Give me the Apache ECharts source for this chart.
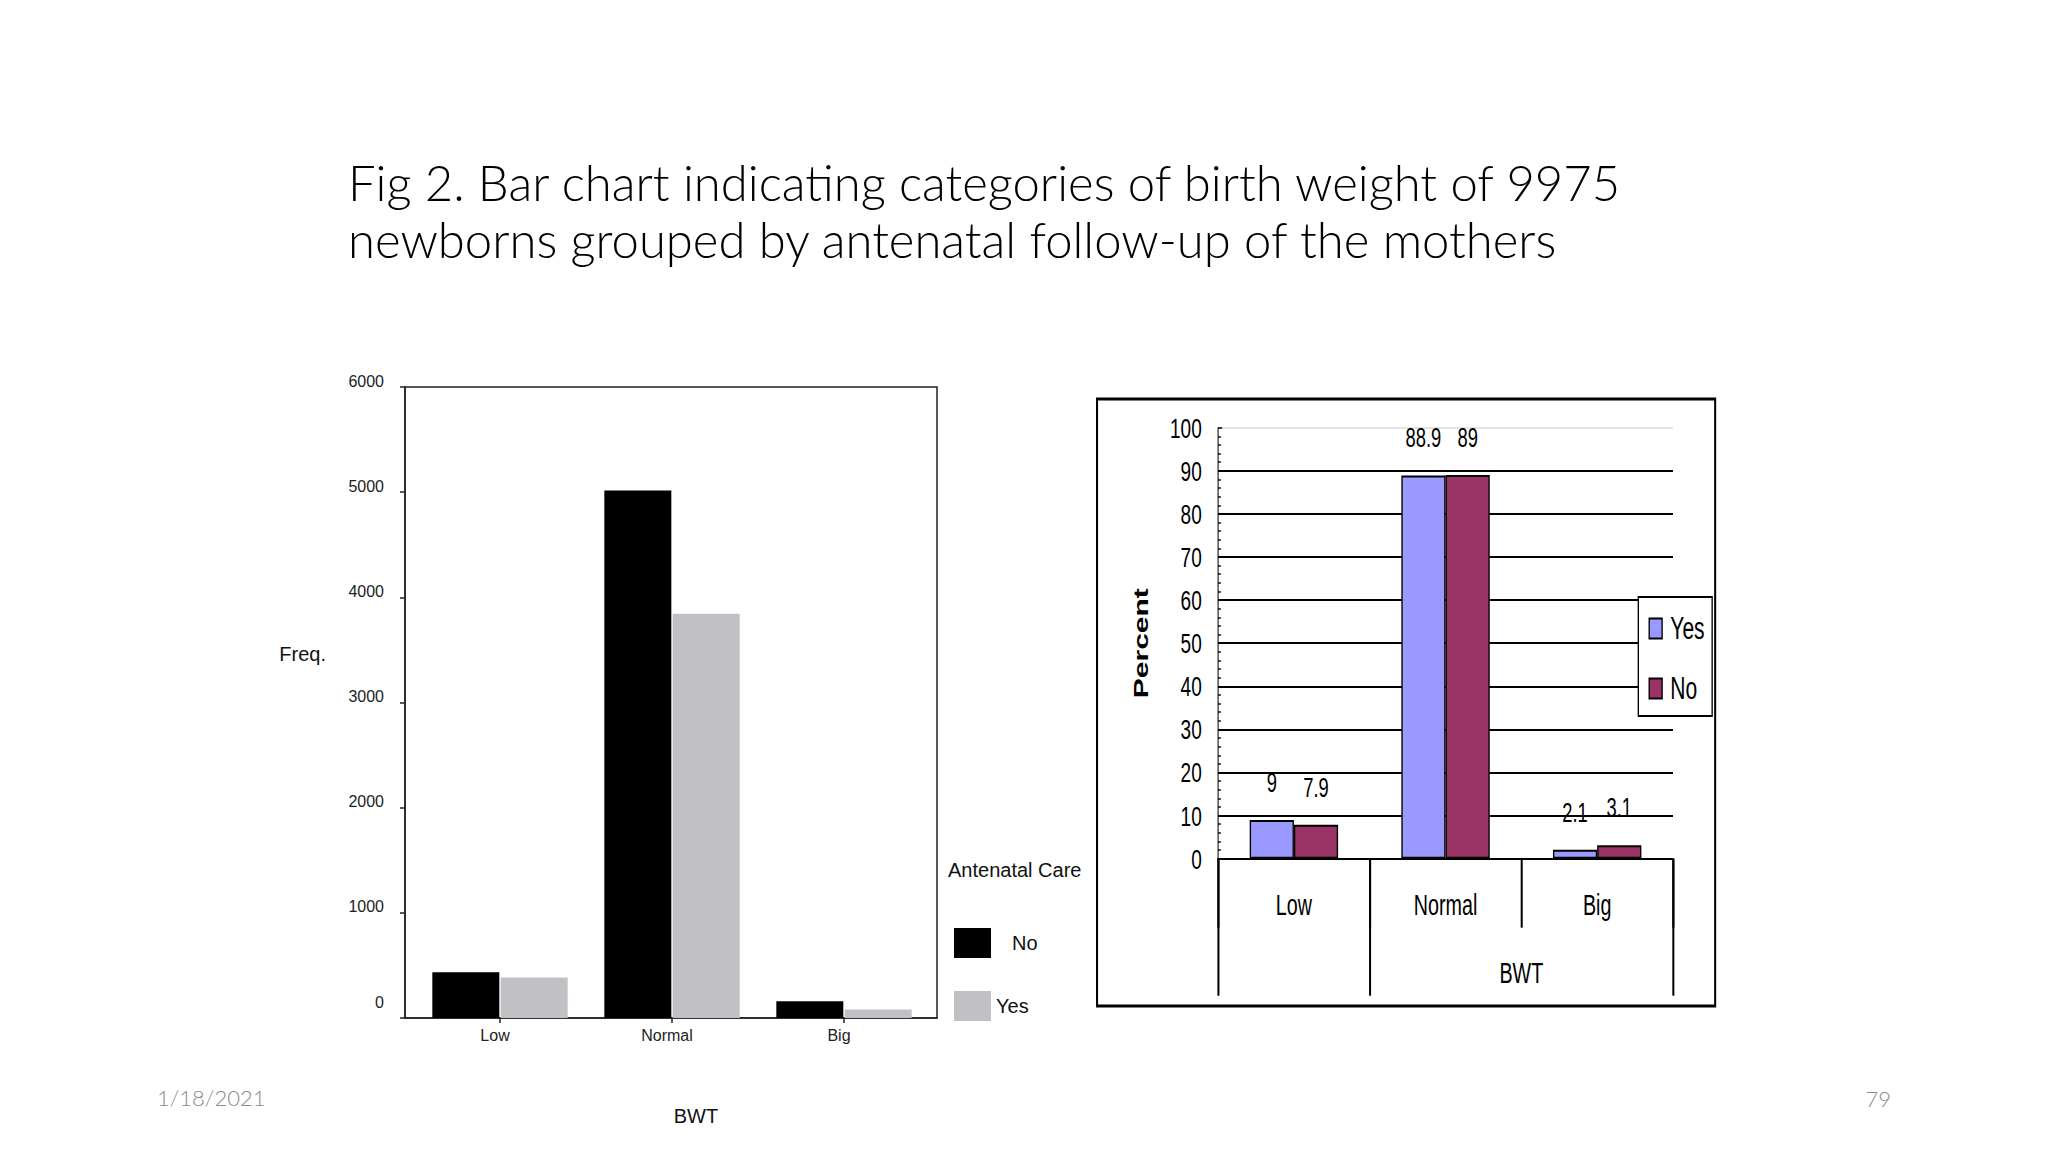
<!DOCTYPE html>
<html>
<head>
<meta charset="utf-8">
<script src="https://cdn.jsdelivr.net/npm/echarts@6/dist/echarts.min.js"></script>
<style>
html, body { margin: 0; padding: 0; background: #fff; }
#c1 { position: absolute; left: 0; top: 0; width: 2048px; height: 1152px; }
#c2 { position: absolute; left: 1095px; top: 0; width: 920px; height: 1152px; transform: scaleX(0.68); transform-origin: 0 0; }
</style>
</head>
<body>
<div id="c1"></div>
<div id="c2"></div>
<script>
// ---- data ----
const categories = ['Low', 'Normal', 'Big'];
const freqNo = [435, 5015, 160];
const freqYes = [385, 3845, 80];
const pctYes = [9, 88.9, 2.1];
const pctNo = [7.9, 89, 3.1];
const titleLines = ['Fig 2. Bar chart indicating categories of birth weight of 9975', 'newborns grouped by antenatal follow-up of the mothers'];
const footerDate = '1/18/2021';
const pageNumber = '79';

const AR = 'Liberation Sans, Arial, sans-serif';

// ---- left chart (frequencies) ----
const c1 = echarts.init(document.getElementById('c1'), null, { width: 2048, height: 1152, renderer: 'svg' });
c1.setOption({
  animation: false,
  title: [
    { text: titleLines.join('\n'), left: 348, top: 153, padding: 0,
      textStyle: { fontFamily: 'Lato, Open Sans, sans-serif', fontWeight: 300, fontSize: 49, lineHeight: 57, color: '#000' } },
    { text: 'Antenatal Care', left: 948, top: 860, padding: 0,
      textStyle: { fontFamily: AR, fontWeight: 'normal', fontSize: 20, color: '#111' } }
  ],
  grid: [
    { left: 405, right: 1111, top: 387, bottom: 134, show: true, borderColor: '#222', borderWidth: 1.5 },
    { left: 414, right: 1118, top: 387, bottom: 134 }
  ],
  legend: {
    orient: 'vertical', left: 949, top: 923, itemWidth: 37, itemHeight: 30, itemGap: 33,
    icon: 'rect', selectedMode: false,
    textStyle: { fontFamily: AR, fontSize: 20, color: '#111' },
    data: [
      { name: 'No', textStyle: { padding: [0, 0, 0, 16] } },
      { name: 'Yes' }
    ]
  },
  xAxis: [
    {
      gridIndex: 0, type: 'category', data: categories,
      axisLine: { lineStyle: { color: '#222', width: 1.5 } },
      axisTick: { show: false }, axisLabel: { show: false }
    },
    {
      gridIndex: 1, type: 'category', data: categories,
      axisLine: { show: false },
      axisTick: { show: true, alignWithLabel: true, length: 5, lineStyle: { color: '#222', width: 1.5 } },
      axisLabel: { fontFamily: AR, fontSize: 16, color: '#222', margin: 9, padding: [0, 10, 0, 0] },
      name: 'BWT', nameLocation: 'middle', nameGap: 88,
      nameTextStyle: { fontFamily: AR, fontSize: 20, color: '#111', padding: [0, 0, 0, 48] }
    }
  ],
  yAxis: [
    {
      gridIndex: 0, type: 'value', min: 0, max: 6000, interval: 1000,
      axisLine: { show: true, lineStyle: { color: '#222', width: 1.5 } },
      axisTick: { show: true, length: 5, lineStyle: { color: '#222', width: 1.5 } },
      splitLine: { show: false },
      axisLabel: {
        fontFamily: AR, fontSize: 16, color: '#222', margin: 21,
        formatter: v => v === 0 ? '{z|0}' : '{n|' + v + '}',
        rich: { n: { fontFamily: AR, fontSize: 16, color: '#222', padding: [0, 0, 12, 0] },
                z: { fontFamily: AR, fontSize: 16, color: '#222', padding: [0, 0, 32, 0] } }
      },
      name: '{f|Freq.}', nameLocation: 'middle', nameRotate: 0, nameGap: 79,
      nameTextStyle: { fontFamily: AR, fontSize: 20, color: '#111',
        rich: { f: { fontFamily: AR, fontSize: 20, color: '#111', padding: [0, 0, 97, 0] } } }
    },
    { gridIndex: 1, type: 'value', min: 0, max: 6000, interval: 1000, show: false }
  ],
  series: [
    { name: 'No', type: 'bar', xAxisIndex: 1, yAxisIndex: 1, data: freqNo, barWidth: 67, barGap: '2%', itemStyle: { color: '#000' } },
    { name: 'Yes', type: 'bar', xAxisIndex: 1, yAxisIndex: 1, data: freqYes, barWidth: 67, barGap: '2%', itemStyle: { color: '#c1c0c5' } }
  ],
  graphic: [
    { type: 'text', left: 157, top: 1086, style: { text: footerDate, fill: '#8a8a8a', font: '300 22px Lato, sans-serif' } },
    { type: 'text', right: 2048 - 1891, top: 1087, style: { text: pageNumber, fill: '#8a8a8a', font: '300 22px Lato, sans-serif' } }
  ]
});

// ---- right chart (percent) ----
const c2 = echarts.init(document.getElementById('c2'), null, { width: 920, height: 1152, renderer: 'svg' });
const splitColors = ['#000', '#000', '#000', '#000', '#000', '#000', '#000', '#000', '#000', '#000', '#e4e4e4'];
c2.setOption({
  animation: false,
  grid: { left: 181, right: 70, top: 427.7, bottom: 293.3 },
  legend: {
    orient: 'vertical', left: 799, top: 597, itemWidth: 19, itemHeight: 20, itemGap: 29,
    icon: 'rect', selectedMode: false,
    padding: [16, 11, 12, 15], borderColor: '#000', borderWidth: 2, backgroundColor: '#fff',
    textStyle: { fontFamily: AR, fontSize: 31, color: '#000', padding: [0, 0, 0, 7] },
    data: ['Yes', 'No']
  },
  xAxis: [
    {
      type: 'category', data: categories,
      axisLine: { lineStyle: { color: '#000', width: 2 } },
      axisTick: { show: true, length: 69, lineStyle: { color: '#000', width: 3 } },
      axisLabel: { fontFamily: AR, fontSize: 29, color: '#000', margin: 32 }
    },
    {
      type: 'value', min: 0, max: 3, position: 'bottom',
      axisLine: { show: false },
      splitLine: { show: false },
      axisTick: { show: true, customValues: [0, 1, 3], length: 137, lineStyle: { color: '#000', width: 3 } },
      axisLabel: { show: true, customValues: [2], formatter: () => 'BWT', fontFamily: AR, fontSize: 29, color: '#000', margin: 100 }
    }
  ],
  yAxis: {
    type: 'value', min: 0, max: 100, interval: 10,
    axisLine: { show: true, lineStyle: { color: '#000', width: 1.5 } },
    axisTick: { show: true, inside: true, length: 6, lineStyle: { color: '#000', width: 1.5 } },
    minorTick: { show: true, splitNumber: 5, length: 4, lineStyle: { color: '#000', width: 1.5 } },
    splitLine: { show: true, lineStyle: { color: splitColors, width: 2 } },
    axisLabel: { fontFamily: AR, fontSize: 28, color: '#000', margin: 24 },
    name: 'Percent', nameLocation: 'middle', nameRotate: 90, nameGap: 98,
    nameTextStyle: { fontFamily: AR, fontSize: 30, fontWeight: 'bold', color: '#000' }
  },
  series: [
    { name: 'Yes', type: 'bar', xAxisIndex: 0, data: pctYes, barWidth: 65, barGap: '0%',
      itemStyle: { color: '#9999ff', borderColor: '#000', borderWidth: 2 },
      label: { show: true, position: 'top', distance: 24, fontFamily: AR, fontSize: 27, color: '#000' } },
    { name: 'No', type: 'bar', xAxisIndex: 0, data: pctNo, barWidth: 65, barGap: '0%',
      itemStyle: { color: '#993366', borderColor: '#000', borderWidth: 2 },
      label: { show: true, position: 'top', distance: 24, fontFamily: AR, fontSize: 27, color: '#000' } }
  ],
  graphic: [
    { type: 'rect', shape: { x: 3, y: 399, width: 909, height: 607 },
      style: { fill: 'none', stroke: '#000', lineWidth: 3 }, z: 10 }
  ]
});
</script>
</body>
</html>
